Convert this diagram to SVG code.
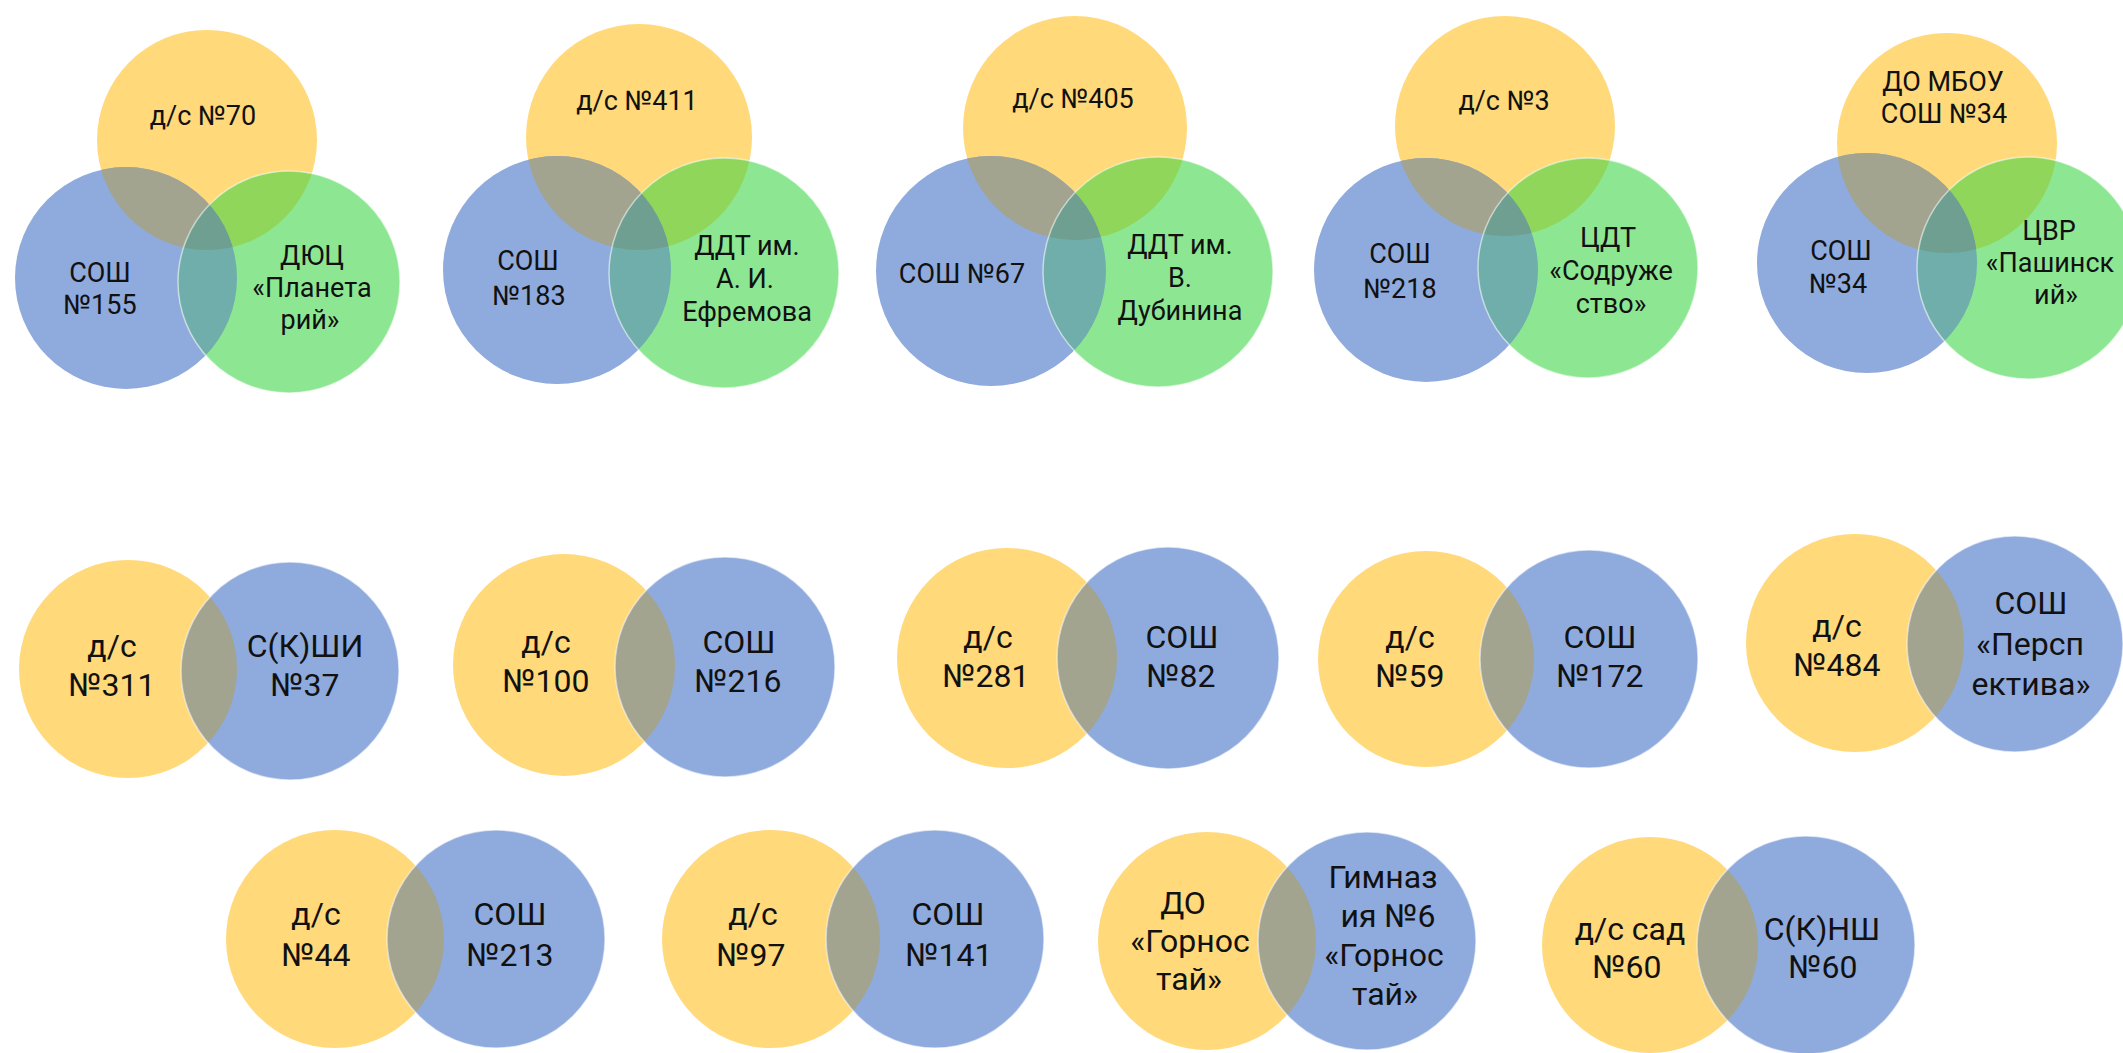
<svg xmlns="http://www.w3.org/2000/svg" xmlns:xlink="http://www.w3.org/1999/xlink" width="2123" height="1053" viewBox="0 0 2123 1053">
<style>
.y{fill:#FFD97A}
.b{fill:#8FAADC}
.g{fill:#8DE792}
.yb{fill:#A3A48F}
.yg{fill:#8FD65B}
.bg{fill:#6FAEAA}
.ybg{fill:#6E9F90}
.edge{fill:none;stroke:#FFFFFF;stroke-opacity:0.55;stroke-width:1.5}
.t1{font-family:Roboto,"Noto Sans",sans-serif;font-size:27px;fill:#111;text-anchor:middle}
.t2{font-family:Roboto,"Noto Sans",sans-serif;font-size:32px;fill:#111;text-anchor:middle}
</style>
<defs>
<circle id="d1y" cx="207" cy="140" r="110"/><circle id="d1b" cx="126" cy="278" r="111"/><circle id="d1g" cx="289" cy="282" r="111"/>
<circle id="d2y" cx="639" cy="137" r="113"/><circle id="d2b" cx="557" cy="270" r="114"/><circle id="d2g" cx="724" cy="273" r="115"/>
<circle id="d3y" cx="1075" cy="128" r="112"/><circle id="d3b" cx="991" cy="271" r="115"/><circle id="d3g" cx="1158" cy="272" r="115"/>
<circle id="d4y" cx="1505" cy="126" r="110"/><circle id="d4b" cx="1426" cy="270" r="112"/><circle id="d4g" cx="1588" cy="268" r="110"/>
<circle id="d5y" cx="1947" cy="143" r="110"/><circle id="d5b" cx="1867" cy="263" r="110"/><circle id="d5g" cx="2028" cy="268" r="111"/>
<circle id="p1y" cx="128" cy="669" r="109"/><circle id="p1b" cx="290" cy="671" r="109"/>
<circle id="p2y" cx="564" cy="665" r="111"/><circle id="p2b" cx="725" cy="667" r="110"/>
<circle id="p3y" cx="1007" cy="658" r="110"/><circle id="p3b" cx="1168" cy="658" r="111"/>
<circle id="p4y" cx="1426" cy="659" r="108"/><circle id="p4b" cx="1589" cy="659" r="109"/>
<circle id="p5y" cx="1855" cy="643" r="109"/><circle id="p5b" cx="2015" cy="644" r="108"/>
<circle id="p6y" cx="335" cy="939" r="109"/><circle id="p6b" cx="496" cy="939" r="109"/>
<circle id="p7y" cx="771" cy="939" r="109"/><circle id="p7b" cx="935" cy="939" r="109"/>
<circle id="p8y" cx="1207" cy="941" r="109"/><circle id="p8b" cx="1367" cy="941" r="109"/>
<circle id="p9y" cx="1650" cy="945" r="108"/><circle id="p9b" cx="1806" cy="945" r="109"/>
<clipPath id="cd1b"><use xlink:href="#d1b"/></clipPath><clipPath id="cd1g"><use xlink:href="#d1g"/></clipPath>
<clipPath id="cd2b"><use xlink:href="#d2b"/></clipPath><clipPath id="cd2g"><use xlink:href="#d2g"/></clipPath>
<clipPath id="cd3b"><use xlink:href="#d3b"/></clipPath><clipPath id="cd3g"><use xlink:href="#d3g"/></clipPath>
<clipPath id="cd4b"><use xlink:href="#d4b"/></clipPath><clipPath id="cd4g"><use xlink:href="#d4g"/></clipPath>
<clipPath id="cd5b"><use xlink:href="#d5b"/></clipPath><clipPath id="cd5g"><use xlink:href="#d5g"/></clipPath>
<clipPath id="cp1b"><use xlink:href="#p1b"/></clipPath>
<clipPath id="cp2b"><use xlink:href="#p2b"/></clipPath>
<clipPath id="cp3b"><use xlink:href="#p3b"/></clipPath>
<clipPath id="cp4b"><use xlink:href="#p4b"/></clipPath>
<clipPath id="cp5b"><use xlink:href="#p5b"/></clipPath>
<clipPath id="cp6b"><use xlink:href="#p6b"/></clipPath>
<clipPath id="cp7b"><use xlink:href="#p7b"/></clipPath>
<clipPath id="cp8b"><use xlink:href="#p8b"/></clipPath>
<clipPath id="cp9b"><use xlink:href="#p9b"/></clipPath>
</defs>
<rect width="2123" height="1053" fill="#FFFFFF"/>
<g id="connectors"/>

<g id="venn1">
<use xlink:href="#d1y" class="y"/><use xlink:href="#d1b" class="b"/><use xlink:href="#d1g" class="g"/>
<use xlink:href="#d1y" class="yb" clip-path="url(#cd1b)"/><use xlink:href="#d1y" class="yg" clip-path="url(#cd1g)"/><use xlink:href="#d1b" class="bg" clip-path="url(#cd1g)"/>
<g clip-path="url(#cd1g)"><use xlink:href="#d1y" class="ybg" clip-path="url(#cd1b)"/></g>
<use xlink:href="#d1g" class="edge"/>
<text class="t1" x="203" y="125">д/с №70</text>
<text class="t1"><tspan x="100" y="282">СОШ</tspan><tspan x="100" y="314">№155</tspan></text>
<text class="t1"><tspan x="312" y="265">ДЮЦ</tspan><tspan x="312" y="297">«Планета</tspan><tspan x="310" y="329">рий»</tspan></text>
</g>

<g id="venn2">
<use xlink:href="#d2y" class="y"/><use xlink:href="#d2b" class="b"/><use xlink:href="#d2g" class="g"/>
<use xlink:href="#d2y" class="yb" clip-path="url(#cd2b)"/><use xlink:href="#d2y" class="yg" clip-path="url(#cd2g)"/><use xlink:href="#d2b" class="bg" clip-path="url(#cd2g)"/>
<g clip-path="url(#cd2g)"><use xlink:href="#d2y" class="ybg" clip-path="url(#cd2b)"/></g>
<use xlink:href="#d2g" class="edge"/>
<text class="t1" x="637" y="110">д/с №411</text>
<text class="t1"><tspan x="528" y="270">СОШ</tspan><tspan x="529" y="305">№183</tspan></text>
<text class="t1"><tspan x="747" y="255">ДДТ им.</tspan><tspan x="745" y="288">А. И.</tspan><tspan x="747" y="321">Ефремова</tspan></text>
</g>

<g id="venn3">
<use xlink:href="#d3y" class="y"/><use xlink:href="#d3b" class="b"/><use xlink:href="#d3g" class="g"/>
<use xlink:href="#d3y" class="yb" clip-path="url(#cd3b)"/><use xlink:href="#d3y" class="yg" clip-path="url(#cd3g)"/><use xlink:href="#d3b" class="bg" clip-path="url(#cd3g)"/>
<g clip-path="url(#cd3g)"><use xlink:href="#d3y" class="ybg" clip-path="url(#cd3b)"/></g>
<use xlink:href="#d3g" class="edge"/>
<text class="t1" x="1073" y="108">д/с №405</text>
<text class="t1" x="962" y="283">СОШ №67</text>
<text class="t1"><tspan x="1180" y="254">ДДТ им.</tspan><tspan x="1180" y="287">В.</tspan><tspan x="1180" y="320">Дубинина</tspan></text>
</g>

<g id="venn4">
<use xlink:href="#d4y" class="y"/><use xlink:href="#d4b" class="b"/><use xlink:href="#d4g" class="g"/>
<use xlink:href="#d4y" class="yb" clip-path="url(#cd4b)"/><use xlink:href="#d4y" class="yg" clip-path="url(#cd4g)"/><use xlink:href="#d4b" class="bg" clip-path="url(#cd4g)"/>
<g clip-path="url(#cd4g)"><use xlink:href="#d4y" class="ybg" clip-path="url(#cd4b)"/></g>
<use xlink:href="#d4g" class="edge"/>
<text class="t1" x="1504" y="110">д/с №3</text>
<text class="t1"><tspan x="1400" y="263">СОШ</tspan><tspan x="1400" y="298">№218</tspan></text>
<text class="t1"><tspan x="1608" y="247">ЦДТ</tspan><tspan x="1611" y="280">«Содруже</tspan><tspan x="1611" y="313">ство»</tspan></text>
</g>

<g id="venn5">
<use xlink:href="#d5y" class="y"/><use xlink:href="#d5b" class="b"/><use xlink:href="#d5g" class="g"/>
<use xlink:href="#d5y" class="yb" clip-path="url(#cd5b)"/><use xlink:href="#d5y" class="yg" clip-path="url(#cd5g)"/><use xlink:href="#d5b" class="bg" clip-path="url(#cd5g)"/>
<g clip-path="url(#cd5g)"><use xlink:href="#d5y" class="ybg" clip-path="url(#cd5b)"/></g>
<use xlink:href="#d5g" class="edge"/>
<text class="t1"><tspan x="1943" y="91">ДО МБОУ</tspan><tspan x="1944" y="123">СОШ №34</tspan></text>
<text class="t1"><tspan x="1841" y="260">СОШ</tspan><tspan x="1838" y="293">№34</tspan></text>
<text class="t1"><tspan x="2049" y="240">ЦВР</tspan><tspan x="2050" y="272">«Пашинск</tspan><tspan x="2056" y="304">ий»</tspan></text>
</g>

<g id="pair1">
<use xlink:href="#p1y" class="y"/><use xlink:href="#p1b" class="b"/>
<use xlink:href="#p1y" class="yb" clip-path="url(#cp1b)"/><use xlink:href="#p1b" class="edge"/>
<text class="t2"><tspan x="112" y="657">д/с</tspan><tspan x="112" y="696">№311</tspan></text>
<text class="t2"><tspan x="305" y="657">С(К)ШИ</tspan><tspan x="305" y="696">№37</tspan></text>
</g>

<g id="pair2">
<use xlink:href="#p2y" class="y"/><use xlink:href="#p2b" class="b"/>
<use xlink:href="#p2y" class="yb" clip-path="url(#cp2b)"/><use xlink:href="#p2b" class="edge"/>
<text class="t2"><tspan x="546" y="653">д/с</tspan><tspan x="546" y="692">№100</tspan></text>
<text class="t2"><tspan x="739" y="653">СОШ</tspan><tspan x="738" y="692">№216</tspan></text>
</g>

<g id="pair3">
<use xlink:href="#p3y" class="y"/><use xlink:href="#p3b" class="b"/>
<use xlink:href="#p3y" class="yb" clip-path="url(#cp3b)"/><use xlink:href="#p3b" class="edge"/>
<text class="t2"><tspan x="988" y="648">д/с</tspan><tspan x="986" y="687">№281</tspan></text>
<text class="t2"><tspan x="1182" y="648">СОШ</tspan><tspan x="1181" y="687">№82</tspan></text>
</g>

<g id="pair4">
<use xlink:href="#p4y" class="y"/><use xlink:href="#p4b" class="b"/>
<use xlink:href="#p4y" class="yb" clip-path="url(#cp4b)"/><use xlink:href="#p4b" class="edge"/>
<text class="t2"><tspan x="1410" y="648">д/с</tspan><tspan x="1410" y="687">№59</tspan></text>
<text class="t2"><tspan x="1600" y="648">СОШ</tspan><tspan x="1600" y="687">№172</tspan></text>
</g>

<g id="pair5">
<use xlink:href="#p5y" class="y"/><use xlink:href="#p5b" class="b"/>
<use xlink:href="#p5y" class="yb" clip-path="url(#cp5b)"/><use xlink:href="#p5b" class="edge"/>
<text class="t2"><tspan x="1837" y="637">д/с</tspan><tspan x="1837" y="676">№484</tspan></text>
<text class="t2"><tspan x="2031" y="614">СОШ</tspan><tspan x="2030" y="655">«Персп</tspan><tspan x="2031" y="695">ектива»</tspan></text>
</g>

<g id="pair6">
<use xlink:href="#p6y" class="y"/><use xlink:href="#p6b" class="b"/>
<use xlink:href="#p6y" class="yb" clip-path="url(#cp6b)"/><use xlink:href="#p6b" class="edge"/>
<text class="t2"><tspan x="316" y="925">д/с</tspan><tspan x="316" y="966">№44</tspan></text>
<text class="t2"><tspan x="510" y="925">СОШ</tspan><tspan x="510" y="966">№213</tspan></text>
</g>

<g id="pair7">
<use xlink:href="#p7y" class="y"/><use xlink:href="#p7b" class="b"/>
<use xlink:href="#p7y" class="yb" clip-path="url(#cp7b)"/><use xlink:href="#p7b" class="edge"/>
<text class="t2"><tspan x="753" y="925">д/с</tspan><tspan x="751" y="966">№97</tspan></text>
<text class="t2"><tspan x="948" y="925">СОШ</tspan><tspan x="949" y="966">№141</tspan></text>
</g>

<g id="pair8">
<use xlink:href="#p8y" class="y"/><use xlink:href="#p8b" class="b"/>
<use xlink:href="#p8y" class="yb" clip-path="url(#cp8b)"/><use xlink:href="#p8b" class="edge"/>
<text class="t2"><tspan x="1183" y="914">ДО</tspan><tspan x="1190" y="952">«Горнос</tspan><tspan x="1189" y="990">тай»</tspan></text>
<text class="t2"><tspan x="1383" y="888">Гимназ</tspan><tspan x="1388" y="927">ия №6</tspan><tspan x="1384" y="966">«Горнос</tspan><tspan x="1385" y="1005">тай»</tspan></text>
</g>

<g id="pair9">
<use xlink:href="#p9y" class="y"/><use xlink:href="#p9b" class="b"/>
<use xlink:href="#p9y" class="yb" clip-path="url(#cp9b)"/><use xlink:href="#p9b" class="edge"/>
<text class="t2"><tspan x="1630" y="940">д/с сад</tspan><tspan x="1627" y="978">№60</tspan></text>
<text class="t2"><tspan x="1822" y="940">С(К)НШ</tspan><tspan x="1823" y="978">№60</tspan></text>
</g>
</svg>
